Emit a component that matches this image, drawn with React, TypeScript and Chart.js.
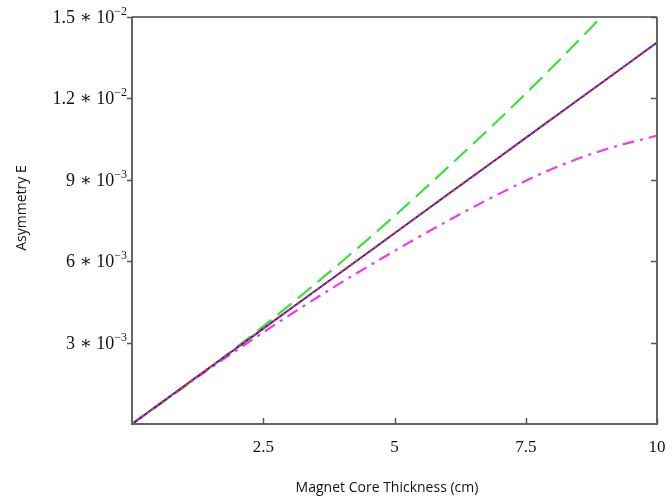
import React, { useEffect, useRef } from "react";
import { Chart, registerables } from "chart.js";

Chart.register(...registerables);

const xValues = [0, 1, 2, 3, 4, 5, 6, 7, 8, 9, 10];
const solidValues = [0, 0.00141, 0.00281, 0.00422, 0.00562, 0.00703, 0.00844, 0.00984, 0.01125, 0.01265, 0.01406];
const dottedValues = [0, 0.00141, 0.00281, 0.00422, 0.00562, 0.00703, 0.00844, 0.00984, 0.01125, 0.01265, 0.01406];
const dashedValues = [0, 0.00138, 0.00284, 0.00438, 0.00599, 0.00767, 0.00943, 0.01124, 0.01314, 0.01512, 0.0172];
const dashDotValues = [0, 0.00139, 0.00273, 0.00401, 0.00523, 0.00638, 0.00747, 0.00849, 0.0094, 0.01011, 0.01063];

const xTickValues = [2.5, 5, 7.5, 10];
const xTickLabels = ["2.5", "5", "7.5", "10"];
const yTickValues = [0.003, 0.006, 0.009, 0.012, 0.015];
const yTickMantissas = ["3", "6", "9", "1.2", "1.5"];
const yTickExponents = ["3", "3", "3", "2", "2"];

const xTitle = "Magnet Core Thickness (cm)";
const yTitle = "Asymmetry E";

const toPoints = (ys: number[]) => xValues.map((x, i) => ({ x, y: ys[i] }));

const framePlugin = {
  id: "framePlugin",
  afterDraw(chart: any) {
    const { ctx, chartArea } = chart;
    const { left, right, top, bottom } = chartArea;
    const xs = chart.scales.x;
    const ys = chart.scales.y;
    ctx.save();
    // frame
    ctx.strokeStyle = "#666666";
    ctx.lineWidth = 2;
    ctx.beginPath();
    ctx.moveTo(left, top);
    ctx.lineTo(left, bottom);
    ctx.lineTo(right, bottom);
    ctx.lineTo(right, top);
    ctx.stroke();
    ctx.strokeStyle = "#444444";
    ctx.lineWidth = 1.5;
    ctx.beginPath();
    ctx.moveTo(left, top);
    ctx.lineTo(right, top);
    ctx.stroke();
    // ticks
    ctx.strokeStyle = "#555555";
    ctx.lineWidth = 1.5;
    yTickValues.forEach((v) => {
      const py = Math.round(ys.getPixelForValue(v)) + 0.5;
      ctx.beginPath();
      ctx.moveTo(left - 5, py);
      ctx.lineTo(left, py);
      ctx.moveTo(right - 6, py);
      ctx.lineTo(right, py);
      ctx.stroke();
    });
    xTickValues.forEach((v) => {
      const px = Math.round(xs.getPixelForValue(v)) + 0.5;
      ctx.beginPath();
      ctx.moveTo(px, bottom);
      ctx.lineTo(px, bottom - 6);
      ctx.stroke();
    });
    // x labels
    ctx.fillStyle = "#111111";
    ctx.font = "17px 'Liberation Serif', 'DejaVu Serif', serif";
    ctx.textAlign = "center";
    ctx.textBaseline = "middle";
    xTickValues.forEach((v, i) => {
      const px = xs.getPixelForValue(v);
      ctx.fillText(xTickLabels[i], px, bottom + 24);
    });
    // y labels with superscripts
    yTickValues.forEach((v, i) => {
      const py = ys.getPixelForValue(v);
      const base = yTickMantissas[i] + " \u2217 10";
      const sup = "\u2212" + yTickExponents[i];
      ctx.font = "18px 'Liberation Serif', 'DejaVu Serif', serif";
      const wBase = ctx.measureText(base).width;
      ctx.font = "12px 'Liberation Serif', 'DejaVu Serif', serif";
      const wSup = ctx.measureText(sup).width;
      const endX = left - 5;
      const startX = endX - wBase - wSup;
      ctx.textAlign = "left";
      ctx.textBaseline = "alphabetic";
      ctx.font = "18px 'Liberation Serif', 'DejaVu Serif', serif";
      ctx.fillText(base, startX, py + 6);
      ctx.font = "12px 'Liberation Serif', 'DejaVu Serif', serif";
      ctx.fillText(sup, startX + wBase, py - 2);
    });
    // titles
    ctx.fillStyle = "#111111";
    ctx.font = "14px 'Open Sans', sans-serif";
    ctx.textAlign = "center";
    ctx.textBaseline = "middle";
    ctx.fillText(xTitle, 387, 488);
    ctx.save();
    ctx.translate(22, 208);
    ctx.rotate(-Math.PI / 2);
    ctx.fillText(yTitle, 0, 0);
    ctx.restore();
    ctx.restore();
  },
};

export default function App() {
  const canvasRef = useRef<HTMLCanvasElement | null>(null);

  useEffect(() => {
    const canvas = canvasRef.current;
    if (!canvas) return;
    const chart = new Chart(canvas, {
      type: "line",
      data: {
        datasets: [
          {
            label: "dotted",
            data: toPoints(dottedValues),
            borderColor: "#e8392e",
            borderWidth: 2,
            borderDash: [3, 3],
            pointRadius: 0,
            cubicInterpolationMode: "monotone",
            order: 0,
          },
          {
            label: "solid",
            data: toPoints(solidValues),
            borderColor: "#2424c8",
            borderWidth: 2,
            pointRadius: 0,
            cubicInterpolationMode: "monotone",
            order: 1,
          },
          {
            label: "dashdot",
            data: toPoints(dashDotValues),
            borderColor: "#ee3cee",
            borderWidth: 2.2,
            borderDash: [12, 6, 3, 6],
            pointRadius: 0,
            cubicInterpolationMode: "monotone",
            order: 2,
          },
          {
            label: "dashed",
            data: toPoints(dashedValues),
            borderColor: "#3fe03f",
            borderWidth: 2.2,
            borderDash: [18, 8],
            pointRadius: 0,
            cubicInterpolationMode: "monotone",
            order: 3,
          },
        ],
      },
      options: {
        responsive: false,
        animation: false,
        layout: { padding: { left: 0, top: 17, right: 15, bottom: 0 } },
        plugins: { legend: { display: false }, tooltip: { enabled: false } },
        scales: {
          x: {
            type: "linear",
            min: 0,
            max: 10,
            grid: { display: false },
            border: { display: false },
            ticks: { display: false },
            afterFit: (scale: any) => {
              scale.height = 76;
            },
          },
          y: {
            type: "linear",
            min: 0,
            max: 0.015,
            grid: { display: false },
            border: { display: false },
            ticks: { display: false },
            afterFit: (scale: any) => {
              scale.width = 132;
            },
          },
        },
      },
      plugins: [framePlugin],
    } as any);
    return () => chart.destroy();
  }, []);

  return (
    <div style={{ position: "absolute", left: 0, top: 0, width: 672, height: 500, background: "#fff" }}>
      <canvas ref={canvasRef} width={672} height={500} style={{ display: "block" }} />
    </div>
  );
}
